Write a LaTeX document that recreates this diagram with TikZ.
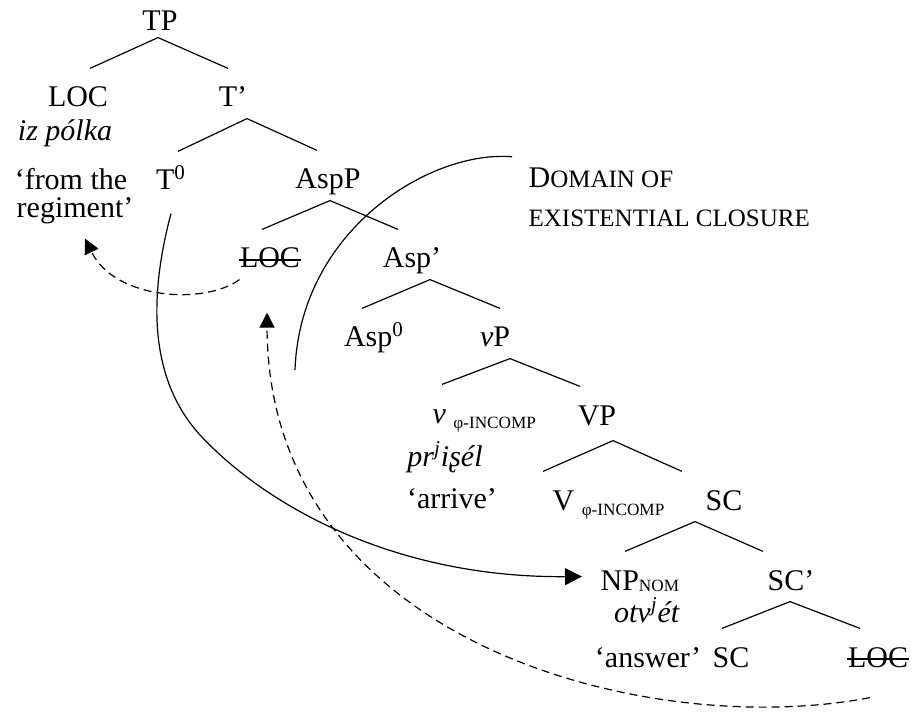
\documentclass[tikz,border=0pt]{standalone}
\usepackage{fontspec}
\setmainfont{Liberation Serif}
\usetikzlibrary{arrows.meta}

\newcommand{\smcap}[1]{{\fontsize{12.5pt}{15pt}\selectfont #1}}
\newcommand{\incomp}{\raisebox{-2.5pt}{\fontsize{8.6pt}{10pt}\selectfont φ-INCOMP}}
\newcommand{\nomsub}{\raisebox{-0.5pt}{\fontsize{8.6pt}{10pt}\selectfont NOM}}

\begin{document}
\begin{tikzpicture}[x=0.5pt, y=-0.5pt, line width=0.6pt,
    font=\fontsize{15pt}{18pt}\selectfont,
    tn/.style={anchor=base, inner sep=0pt, text height=19pt, text depth=5.5pt},
    gl/.style={anchor=base, inner sep=0pt},
    strike/.style={line width=0.9pt},
    mv/.style={dash pattern=on 4pt off 2.5pt, -{Triangle[length=7.5pt,width=7.5pt]}},
    ag/.style={-{Triangle[length=8.5pt,width=8.5pt]}}]
    \useasboundingbox (0,0) rectangle (913,715);

    % Tree labels
    \node[tn] (tp) at (160,31) {TP};
    \node[tn] (loc) at (78,107) {LOC};
    \node[tn] (tbar) at (233,107) {T’};
    \node[tn] (t0) at (171,190) {T\textsuperscript{0}};
    \node[tn] (aspp) at (328,189) {AspP};
    \node[tn] (locb) at (270,268) {LOC};
    \node[tn] (aspbar) at (412,268) {Asp’};
    \node[tn] (asp0) at (374,347) {Asp\textsuperscript{0}};
    \node[tn] (vp) at (495,347) {\textit{v}P};
    \node[tn, anchor=base west] (vhead) at (432,423) {\textit{v} \incomp};
    \node[tn] (vphr) at (597,425) {VP};
    \node[tn, anchor=base west] (vv) at (552,510) {V \incomp};
    \node[tn] (sc) at (724,510) {SC};
    \node[tn, anchor=base west] (np) at (600,590) {NP\nomsub};
    \node[tn] (scbar) at (791,590) {SC’};
    \node[tn] (sclow) at (731,667) {SC};
    \node[tn] (locc) at (878,667) {LOC};

    % Traces struck out
    \draw[strike] ([yshift=4pt]locb.base west) -- ([yshift=4pt]locb.base east);
    \draw[strike] ([yshift=4pt]locc.base west) -- ([yshift=4pt]locc.base east);

    % Glosses
    \node[gl] (izpolka) at (65,141) {\textit{iz pólka}};
    \node[gl] (fromthe) at (71,190) {‘from the};
    \node[gl] (regiment) at (75,218) {regiment’};
    \node[gl] (prisel) at (445,466) {\textit{pr\textsuperscript{j}iʂél}};
    \node[gl] (arrive) at (452,508) {‘arrive’};
    \node[gl] (otvet) at (647,622) {\textit{otv\textsuperscript{j}ét}};
    \node[gl] (answer) at (648,667) {‘answer’};

    % Domain label
    \node[gl, anchor=base west] (dom1) at (528,188) {D\smcap{OMAIN OF}};
    \node[gl, anchor=base west] (dom2) at (528,227) {\smcap{EXISTENTIAL CLOSURE}};

    % Branches
    \draw ([xshift=6pt]loc.north) -- ([xshift=-1pt,yshift=2.5pt]tp.south) -- ([xshift=-2.5pt]tbar.north);
    \draw ([xshift=3.5pt]t0.north) -- ([xshift=7pt]tbar.south) -- ([xshift=-5.5pt]aspp.north);
    \draw ([xshift=-4pt]locb.north) -- ([xshift=1pt]aspp.south) -- ([xshift=-7pt]aspbar.north);
    \draw ([xshift=-6pt]asp0.north) -- ([xshift=9pt]aspbar.south) -- ([xshift=2.5pt]vp.north);
    \draw ([xshift=5pt]vhead.north west) -- ([xshift=7.5pt]vp.south) -- ([xshift=-8.5pt]vphr.north);
    \draw ([xshift=-4.5pt]vv.north west) -- ([xshift=8pt,yshift=-2pt]vphr.south) -- ([xshift=-21pt]sc.north);
    \draw ([xshift=12.5pt]np.north west) -- ([xshift=-14.5pt]sc.south) -- ([xshift=-14pt]scbar.north);
    \draw ([xshift=-4.5pt]sclow.north) -- ([xshift=-0.5pt]scbar.south) -- ([xshift=-9pt]locc.north);

    % Domain of existential closure
    \coordinate (domend) at (295,370);
    \draw ([xshift=-8pt,yshift=5.5pt]dom1.north west) .. controls (430,150) and (300,230) .. (domend);

    % Movement arrows
    \draw[mv] (locb.south west) .. controls (205,305) and (115,300) .. ([xshift=5pt,yshift=-6.75pt]regiment.south);
    \draw[mv] ([xshift=-4pt,yshift=-9.5pt]locc.south) .. controls (650,740) and (268,645) .. ([xshift=-1.5pt,yshift=-16.5pt]locb.south);

    % Agreement
    \draw[ag] ([yshift=-6pt]t0.south) .. controls (148,300) and (150,380) .. (200,435)
        .. controls (270,510) and (400,578) .. ([xshift=-9pt]np.west);

\end{tikzpicture}
\end{document}
